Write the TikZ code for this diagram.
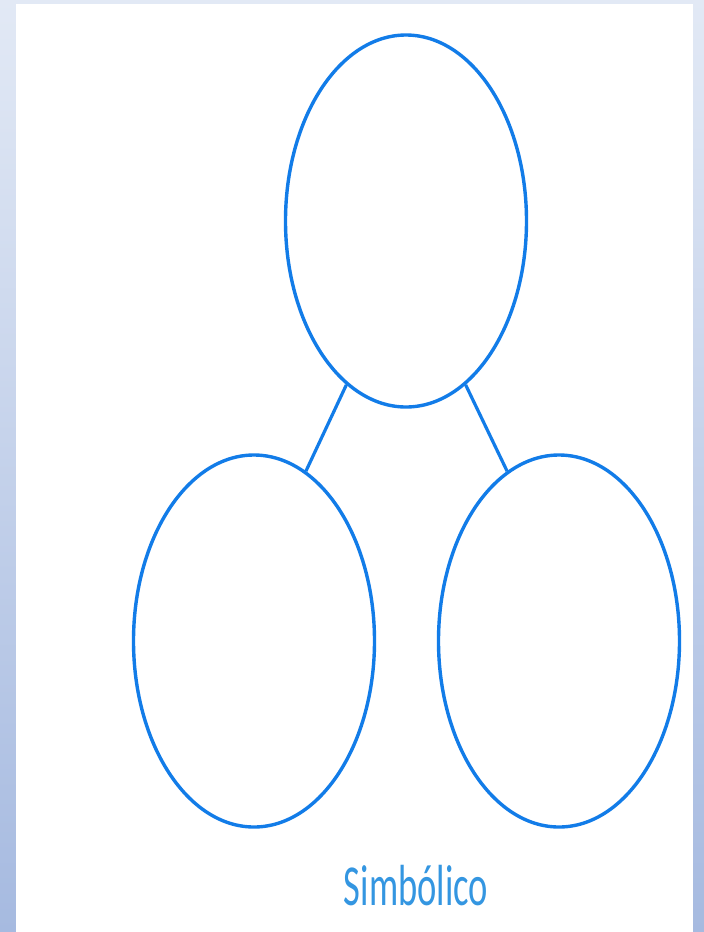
\documentclass[tikz,border=0pt]{standalone}
\usepackage{fontspec}
\setmainfont{Carlito}
\usetikzlibrary{shapes.geometric}
\definecolor{ringblue}{RGB}{18,124,232}
\definecolor{textblue}{RGB}{52,150,225}
\definecolor{bgtop}{RGB}{226,233,245}
\definecolor{bgbot}{RGB}{166,186,224}
\tikzset{
  ring/.style={draw=ringblue, line width=3.4pt, ellipse, minimum width=241pt, minimum height=372pt, inner sep=0pt},
  link/.style={draw=ringblue, line width=3.2pt}
}
\begin{document}
\begin{tikzpicture}[x=1pt,y=-1pt]
\shade[top color=bgtop, bottom color=bgbot] (0,0) rectangle (704,932);
\useasboundingbox (0,0) rectangle (704,932);
\fill[white] (16,4) rectangle (693,932);
\node[ring] (top) at (406,221) {};
\node[ring] (left) at (254,641) {};
\node[ring] (right) at (559,641) {};
\draw[link] (top.250) -- (left.73);
\draw[link] (top.290) -- (right.107);
\node[text=textblue, font=\fontsize{58}{60}\selectfont, xscale=0.63, inner sep=0pt] (lbl) at (416,886) {Simbólico};
\end{tikzpicture}
\end{document}
